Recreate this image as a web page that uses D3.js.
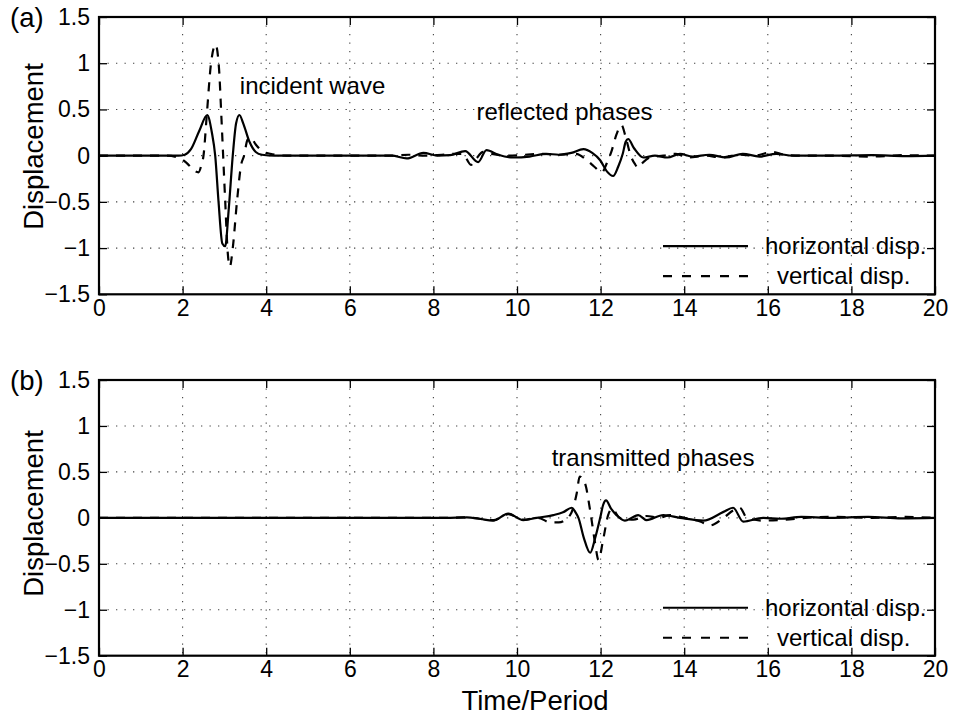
<!DOCTYPE html>
<html>
<head>
<meta charset="utf-8">
<script src="https://cdn.jsdelivr.net/npm/d3@7"></script>
<style>
  html, body { margin: 0; padding: 0; background: #fff; }
  svg { display: block; }
  text { font-family: "Liberation Sans", Arial, Helvetica, sans-serif; fill: #000; }
</style>
</head>
<body>
<svg id="chart" width="953" height="725"></svg>
<script>
// ---------- data ----------
const xTicks = [0, 2, 4, 6, 8, 10, 12, 14, 16, 18, 20];
const yTicks = [-1.5, -1, -0.5, 0, 0.5, 1, 1.5];
const yTickLabels = ["\u22121.5", "\u22121", "\u22120.5", "0", "0.5", "1", "1.5"];
const seriesNames = ["horizontal disp.", "vertical disp."];
const panelLabels = ["(a)", "(b)"];
const annotationsA = [{ t: 3.37, v: 0.67, text: "incident wave" }, { t: 9.03, v: 0.39, text: "reflected phases" }];
const annotationsB = [{ t: 10.83, v: 0.56, text: "transmitted phases" }];

// panel (a) horizontal displacement
const aTimeH = [0, 1.9, 2.05, 2.2, 2.4, 2.59, 2.7, 2.78, 2.86, 2.95, 3.02, 3.1, 3.2, 3.28, 3.36, 3.45, 3.6, 3.75, 3.9, 4.2,
  5, 6, 7.0, 7.36, 7.76, 8.1, 8.4, 8.76, 9.07, 9.27, 9.55, 9.91, 10.3, 10.7, 11.0, 11.3, 11.59, 11.8, 11.99, 12.15, 12.3,
  12.42, 12.53, 12.6, 12.66, 12.8, 13.02, 13.3, 13.6, 13.9, 14.2, 14.6, 15.0, 15.4, 15.8, 16.2, 16.6, 17.5, 18.5, 19.3, 20];
const aHoriz = [0, 0, 0.01, 0.07, 0.27, 0.44, 0.25, 0, -0.5, -0.95, -0.98, -0.6, 0, 0.35, 0.44, 0.35, 0.15, 0.04, 0.01, 0,
  0, 0, 0, -0.03, 0.03, 0, 0.005, 0.05, -0.07, 0.06, 0.01, -0.02, -0.01, 0.02, 0.01, 0.03, 0.07, 0.03, -0.05, -0.17, -0.22,
  -0.12, 0.02, 0.15, 0.18, 0.08, -0.02, 0, -0.02, 0.02, -0.01, 0.01, -0.02, 0.02, -0.01, 0.02, 0, 0, 0.005, -0.005, 0];

// panel (a) vertical displacement
const aTimeV = [0, 1.6, 1.9, 2.1, 2.3, 2.38, 2.45, 2.5, 2.58, 2.68, 2.79, 2.87, 2.93, 2.97, 3.02, 3.08, 3.13, 3.2, 3.3, 3.4,
  3.47, 3.55, 3.62, 3.75, 3.9, 4.1, 4.5, 7.0, 7.4, 7.8, 8.2, 8.5, 8.7, 8.9, 9.0, 9.19, 9.4, 9.8, 10.2, 10.6, 11.0, 11.4,
  11.7, 11.85, 12.03, 12.15, 12.27, 12.38, 12.5, 12.6, 12.72, 12.82, 12.9, 13.0, 13.18, 13.5, 13.8, 14.1, 14.5, 14.9, 15.3,
  15.7, 16.1, 16.4, 16.8, 17.5, 18.5, 19.2, 20];
const aVert = [0, 0, -0.02, -0.08, -0.17, -0.18, -0.1, 0, 0.45, 1.0, 1.2, 0.95, 0.4, 0, -0.5, -1.05, -1.2, -1.0, -0.5, -0.1,
  0, 0.17, 0.2, 0.12, 0.05, 0.02, 0, 0, 0.01, 0, 0.01, 0.02, 0.02, -0.1, -0.05, 0.04, 0.02, 0, 0.01, 0.02, 0.01, 0.02,
  -0.06, -0.12, -0.18, -0.08, 0.06, 0.23, 0.33, 0.2, 0, -0.09, -0.13, -0.08, -0.02, 0, 0.02, -0.02, 0, -0.02, 0.01,
  0, 0.04, 0.01, 0, 0, -0.01, 0.005, 0];

// panel (b) horizontal displacement
const bTimeH = [0, 8.3, 8.8, 9.1, 9.43, 9.79, 10.15, 10.47, 10.87, 11.1, 11.31, 11.4, 11.47, 11.6, 11.75, 11.87, 11.99,
  12.06, 12.13, 12.25, 12.38, 12.58, 12.9, 13.1, 13.5, 13.9, 14.46, 14.94, 15.17, 15.41, 15.89, 16.3, 16.8, 17.5, 18.4, 19.2, 20];
const bHoriz = [0, 0, 0.005, -0.01, -0.03, 0.047, -0.025, 0, 0.03, 0.06, 0.11, 0.06, 0, -0.22, -0.38, -0.22, 0,
  0.14, 0.19, 0.1, 0.03, -0.03, 0.03, -0.025, 0.03, 0, -0.03, 0.065, 0.11, -0.04, 0, -0.01, 0.01, 0, 0.01, -0.005, 0];

// panel (b) vertical displacement
const bTimeV = [0, 8.3, 8.8, 9.1, 9.43, 9.79, 10.15, 10.5, 10.8, 11.0, 11.27, 11.43, 11.5, 11.63, 11.75, 11.87, 11.95,
  12.06, 12.18, 12.27, 12.46, 12.78, 13.1, 13.4, 13.66, 14.0, 14.38, 14.62, 14.94, 15.17, 15.33, 15.5, 15.89, 16.4, 16.9,
  17.6, 18.5, 19.3, 20];
const bVert = [0, 0, 0.005, -0.01, -0.025, 0.04, -0.02, 0, -0.05, -0.05, 0.03, 0.27, 0.45, 0.37, 0.08, -0.28, -0.46,
  -0.24, 0.03, 0.1, 0, -0.02, 0.02, 0, 0.03, 0, -0.04, -0.08, 0, 0.08, 0.11, 0, -0.03, -0.02, 0,
  0.01, 0, 0.01, 0];

// ---------- layout ----------
const svg = d3.select("#chart");
svg.append("rect").attr("width", 953).attr("height", 725).attr("fill", "#fff");

const left = 99, right = 935;
const panels = [
  { top: 17, bottom: 294.3, label: panelLabels[0], ylabelY: 146.5, notes: annotationsA,
    series: [[aTimeH, aHoriz], [aTimeV, aVert]] },
  { top: 380, bottom: 655.7, label: panelLabels[1], ylabelY: 513.5, notes: annotationsB,
    series: [[bTimeH, bHoriz], [bTimeV, bVert]] }
];

const x = d3.scaleLinear().domain([0, 20]).range([left, right]);
const tickFont = 23;

panels.forEach((p) => {
  const y = d3.scaleLinear().domain([-1.5, 1.5]).range([p.bottom, p.top]);
  const g = svg.append("g");

  // grid
  const grid = g.append("g").attr("stroke", "#444").attr("stroke-width", 1.1)
    .attr("stroke-dasharray", "1.3,7.2");
  grid.selectAll("line.gx").data(xTicks.slice(1, -1)).enter().append("line")
    .attr("x1", d => x(d)).attr("x2", d => x(d)).attr("y1", p.top).attr("y2", p.bottom);
  grid.selectAll("line.gy").data(yTicks.slice(1, -1)).enter().append("line")
    .attr("y1", d => y(d)).attr("y2", d => y(d)).attr("x1", left).attr("x2", right);

  // axes
  const axB = d3.axisBottom(x).tickValues(xTicks).tickSizeInner(-8).tickSizeOuter(0).tickPadding(5)
    .tickFormat(d3.format("d"));
  const axT = d3.axisTop(x).tickValues(xTicks).tickSizeInner(-8).tickSizeOuter(0).tickFormat("");
  const axL = d3.axisLeft(y).tickValues(yTicks).tickSizeInner(-8).tickSizeOuter(0).tickPadding(9)
    .tickFormat((d, i) => yTickLabels[i]);
  const axR = d3.axisRight(y).tickValues(yTicks).tickSizeInner(-8).tickSizeOuter(0).tickFormat("");

  const gB = g.append("g").attr("transform", `translate(0,${p.bottom})`).call(axB);
  const gT = g.append("g").attr("transform", `translate(0,${p.top})`).call(axT);
  const gL = g.append("g").attr("transform", `translate(${left},0)`).call(axL);
  const gR = g.append("g").attr("transform", `translate(${right},0)`).call(axR);
  [gB, gT, gL, gR].forEach(a => {
    a.select(".domain").remove();
    a.selectAll(".tick line").attr("stroke", "#000").attr("stroke-width", 1.3);
    a.selectAll(".tick text").attr("font-size", tickFont)
      .attr("font-family", "'Liberation Sans', Arial, sans-serif").attr("fill", "#000");
  });

  // curves
  const line = d3.line().x(d => x(d[0])).y(d => y(d[1])).curve(d3.curveMonotoneX);
  p.series.forEach((s, i) => {
    const pts = s[0].map((t, k) => [t, s[1][k]]);
    g.append("path").datum(pts).attr("d", line).attr("fill", "none")
      .attr("stroke", "#000").attr("stroke-width", 2.2)
      .attr("stroke-linejoin", "round")
      .attr("stroke-dasharray", i === 1 ? "9,8" : null);
  });

  // box
  g.append("rect").attr("x", left).attr("y", p.top).attr("width", right - left)
    .attr("height", p.bottom - p.top).attr("fill", "none").attr("stroke", "#000").attr("stroke-width", 2.2);

  // annotations
  p.notes.forEach(n => {
    g.append("text").attr("x", x(n.t)).attr("y", y(n.v)).attr("font-size", 24).text(n.text);
  });

  // legend
  const legY = [y(-1.0) - 2, y(-1.0) + 28];
  seriesNames.forEach((name, i) => {
    g.append("line").attr("x1", 663).attr("x2", 748).attr("y1", legY[i]).attr("y2", legY[i])
      .attr("stroke", "#000").attr("stroke-width", 2.2).attr("stroke-dasharray", i === 1 ? "9,10" : null);
    g.append("text").attr("x", i === 0 ? 765 : 777).attr("y", legY[i]).attr("dy", "0.35em")
      .attr("font-size", 24).text(name);
  });

  // panel label
  g.append("text").attr("x", 10).attr("y", p.top + 10).attr("font-size", 27.5).text(p.label);

  // y label
  g.append("text").attr("transform", `translate(43,${p.ylabelY}) rotate(-90)`)
    .attr("text-anchor", "middle").attr("font-size", 27.5).text("Displacement");
});

// x label
svg.append("text").attr("x", 535).attr("y", 710).attr("text-anchor", "middle")
  .attr("font-size", 27.5).text("Time/Period");
</script>
</body>
</html>
